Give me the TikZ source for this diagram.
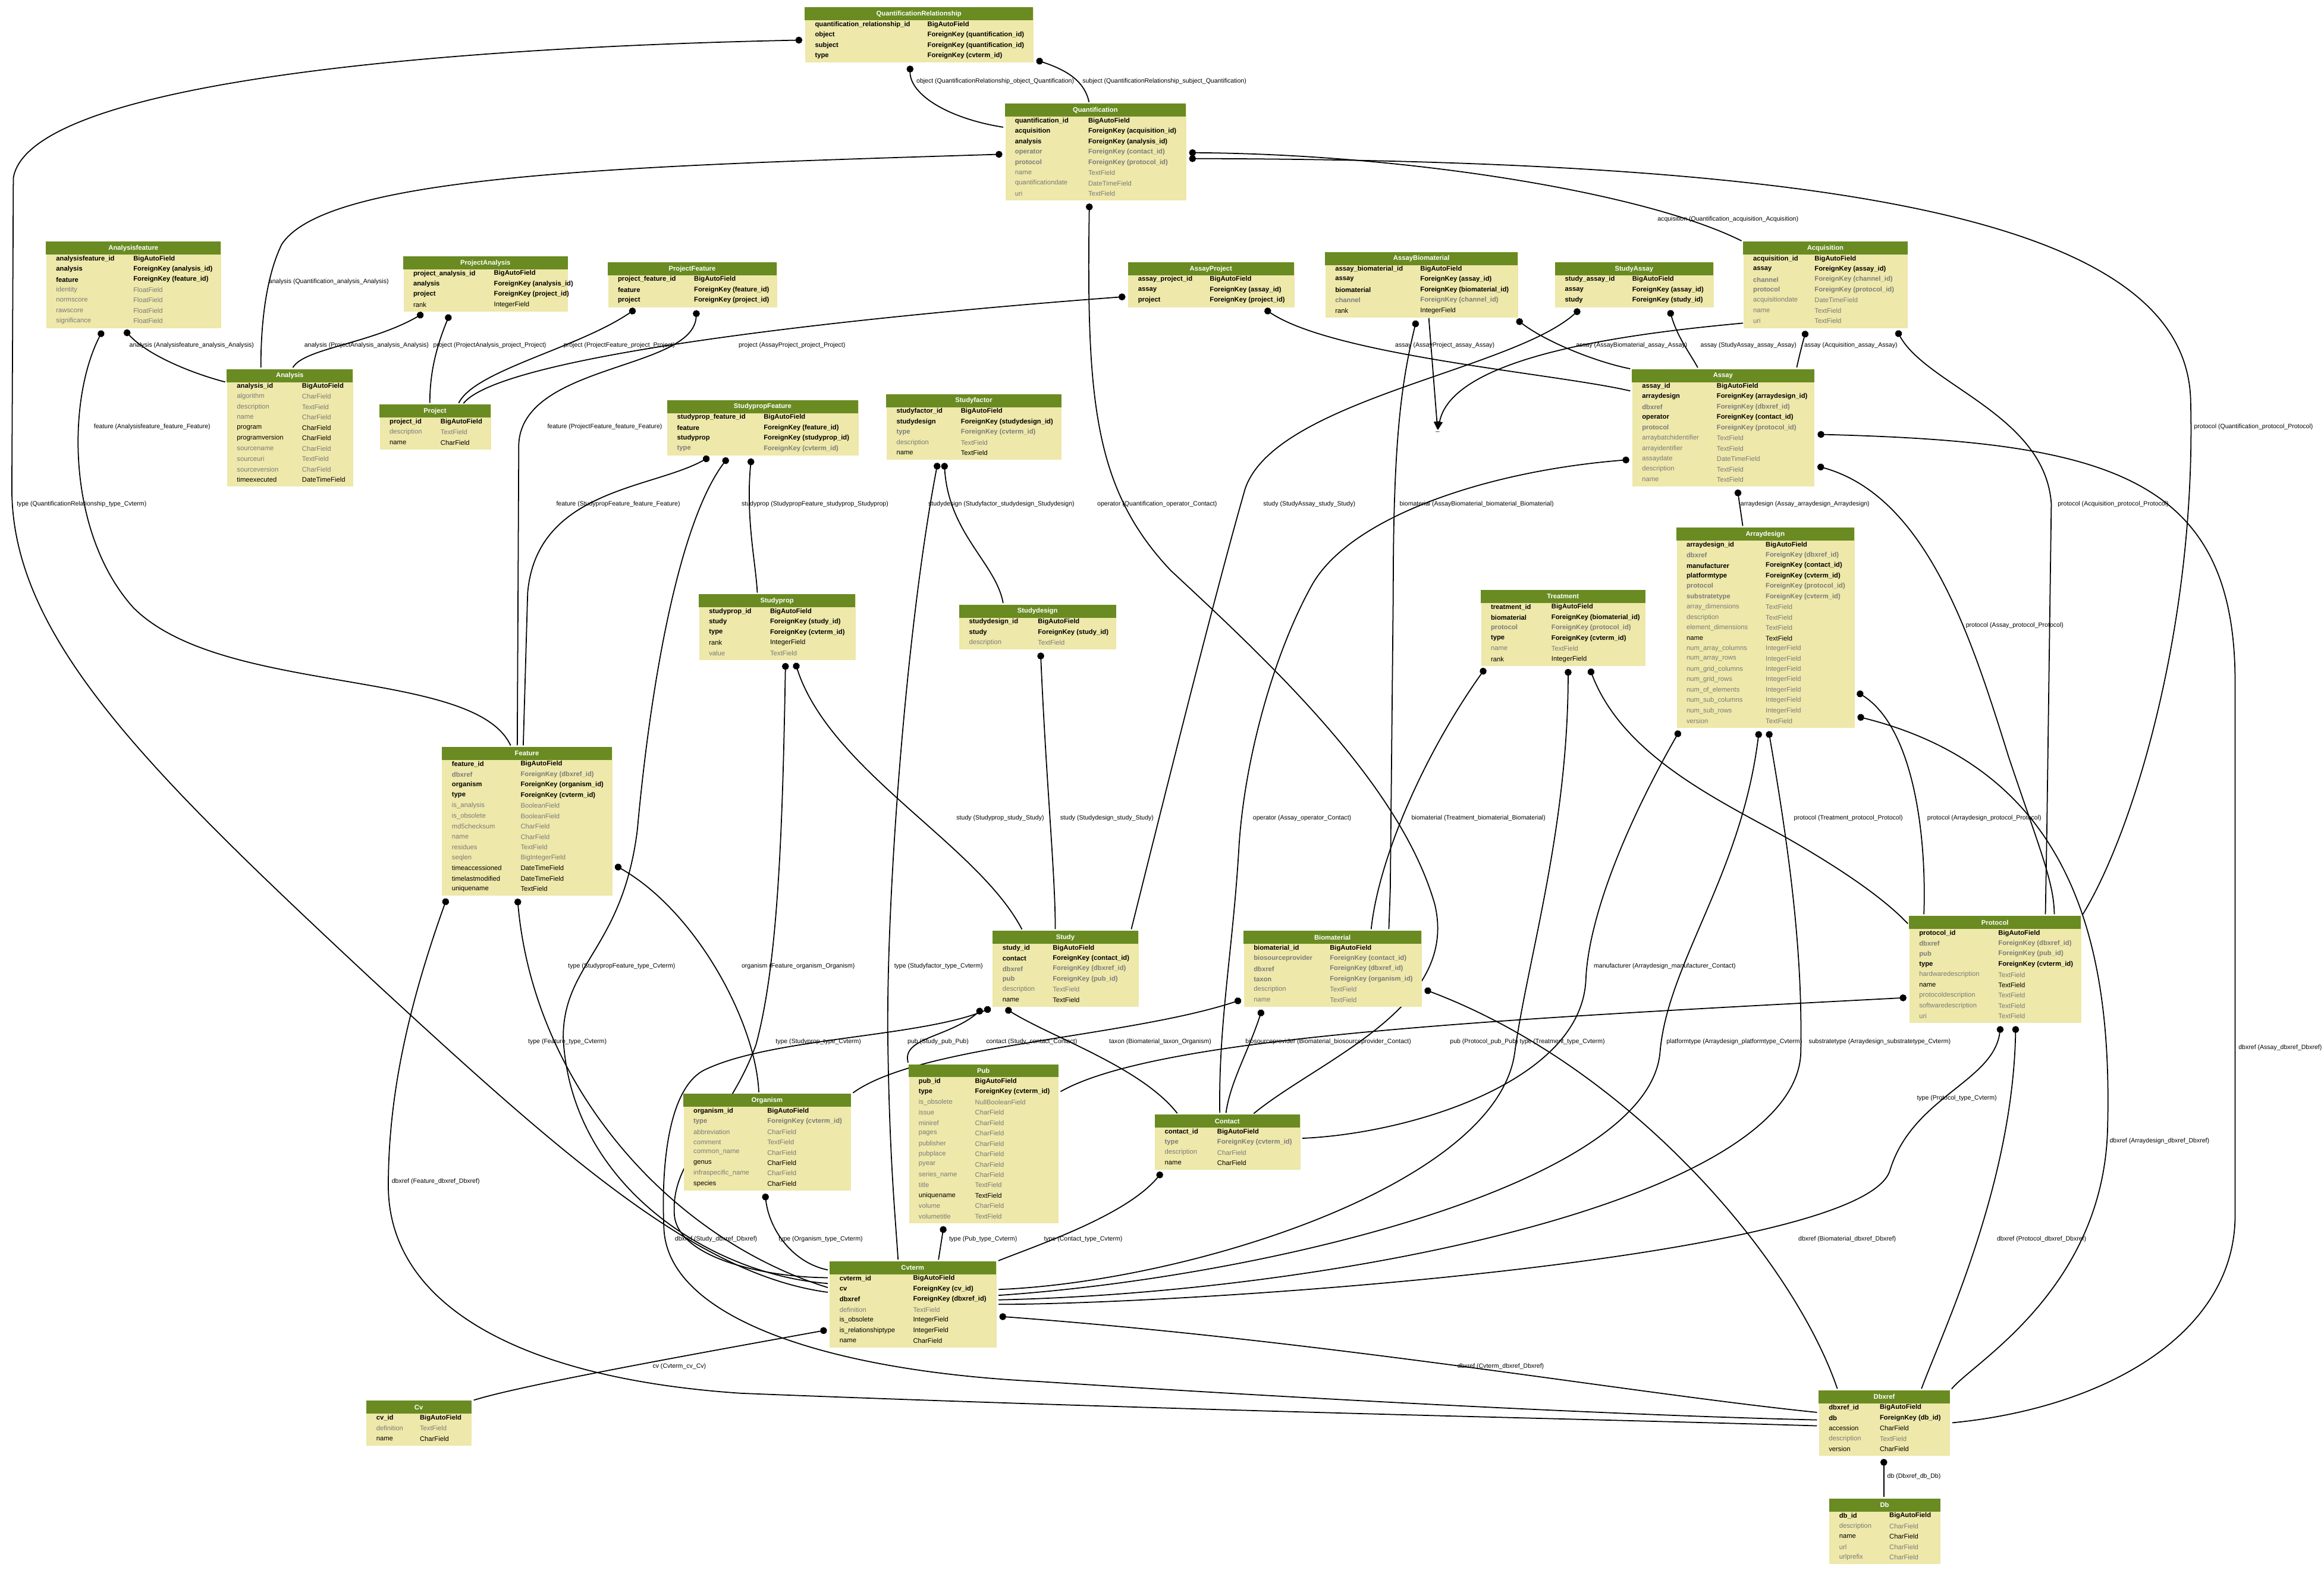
\documentclass[tikz,border=0pt]{standalone}
\usepackage{fontspec}
\setmainfont{Liberation Sans}
\usetikzlibrary{arrows.meta,backgrounds}

\definecolor{hdrgreen}{HTML}{698B22}
\definecolor{bodytan}{HTML}{EEE8AA}
\definecolor{fgrey}{HTML}{7B7B7B}

\newcommand\tblfont{\fontsize{3.2}{3.8}\selectfont}
\newcommand\lblfont{\fontsize{3.0}{3.6}\selectfont}
% row looks: key, key (blank), plain, plain (blank)
\newcommand\rk{\bfseries}
\newcommand\rkg{\bfseries\color{fgrey}}
\newcommand\rp{}
\newcommand\rpg{\color{fgrey}}

% #1 name, #2 left, #3 top, #4 right, #5 second column, #6 title, #7 rows
\newcommand{\djtable}[7]{%
  \foreach \fname/\ftype/\fsty [count=\i] in {#7} {\xdef\nrows{\i}}
  \node[tblbody, minimum width={(#4-#2)*0.2492mm}, minimum height={(9+7*\nrows)*0.2492mm}] (#1) at (#2,#3) {};
  \fill[hdrgreen] (#2,#3) rectangle (#4,#3+8.8);
  \node[hdrtxt] at ({(#2+#4)/2},#3+4.4) {#6};
  \foreach \fname/\ftype/\fsty [count=\i] in {#7} {
    \node[fldtxt] at (#2+6.6,#3+4.6+7*\i) {\fsty\fname};
    \node[fldtxt] at (#5,#3+4.6+7*\i) {\fsty\ftype};
  }
}

\begin{document}
\begin{tikzpicture}[
  x=0.2492mm, y=-0.2492mm,
  tblbody/.style={fill=bodytan, inner sep=0pt, anchor=north west},
  hdrtxt/.style={font=\tblfont\bfseries, text=white, inner sep=0pt},
  fldtxt/.style={font=\tblfont, anchor=west, inner sep=0pt},
  lbl/.style={font=\lblfont, anchor=west, inner sep=0pt},
  fk/.style={arrows={Circle[length=3.3pt]-}, line width=.5pt, shorten <=1.2pt, shorten >=.8pt},
  tip/.style={-{Triangle[length=4pt,width=3pt]}, line width=.5pt}
]
\useasboundingbox (0,0) rectangle (1568,1059);

\djtable{qrel}{543}{5}{697}{625.5}{QuantificationRelationship}{
  quantification\_relationship\_id/BigAutoField/\rk,
  object/ForeignKey (quantification\_id)/\rk,
  subject/ForeignKey (quantification\_id)/\rk,
  type/ForeignKey (cvterm\_id)/\rk}
\djtable{quant}{678}{70}{800}{734}{Quantification}{
  quantification\_id/BigAutoField/\rk,
  acquisition/ForeignKey (acquisition\_id)/\rk,
  analysis/ForeignKey (analysis\_id)/\rk,
  operator/ForeignKey (contact\_id)/\rkg,
  protocol/ForeignKey (protocol\_id)/\rkg,
  name/TextField/\rpg,
  quantificationdate/DateTimeField/\rpg,
  uri/TextField/\rpg}
\djtable{afeat}{31}{163}{149}{89.7}{Analysisfeature}{
  analysisfeature\_id/BigAutoField/\rk,
  analysis/ForeignKey (analysis\_id)/\rk,
  feature/ForeignKey (feature\_id)/\rk,
  identity/FloatField/\rpg,
  normscore/FloatField/\rpg,
  rawscore/FloatField/\rpg,
  significance/FloatField/\rpg}
\djtable{panal}{272}{173}{383}{333}{ProjectAnalysis}{
  project\_analysis\_id/BigAutoField/\rk,
  analysis/ForeignKey (analysis\_id)/\rk,
  project/ForeignKey (project\_id)/\rk,
  rank/IntegerField/\rp}
\djtable{pfeat}{410}{177}{524}{468}{ProjectFeature}{
  project\_feature\_id/BigAutoField/\rk,
  feature/ForeignKey (feature\_id)/\rk,
  project/ForeignKey (project\_id)/\rk}
\djtable{aproj}{761}{177}{873}{816}{AssayProject}{
  assay\_project\_id/BigAutoField/\rk,
  assay/ForeignKey (assay\_id)/\rk,
  project/ForeignKey (project\_id)/\rk}
\djtable{abio}{894}{170}{1024}{958}{AssayBiomaterial}{
  assay\_biomaterial\_id/BigAutoField/\rk,
  assay/ForeignKey (assay\_id)/\rk,
  biomaterial/ForeignKey (biomaterial\_id)/\rk,
  channel/ForeignKey (channel\_id)/\rkg,
  rank/IntegerField/\rp}
\djtable{sassay}{1049}{177}{1156}{1101}{StudyAssay}{
  study\_assay\_id/BigAutoField/\rk,
  assay/ForeignKey (assay\_id)/\rk,
  study/ForeignKey (study\_id)/\rk}
\djtable{acq}{1176}{163}{1287}{1224}{Acquisition}{
  acquisition\_id/BigAutoField/\rk,
  assay/ForeignKey (assay\_id)/\rk,
  channel/ForeignKey (channel\_id)/\rkg,
  protocol/ForeignKey (protocol\_id)/\rkg,
  acquisitiondate/DateTimeField/\rpg,
  name/TextField/\rpg,
  uri/TextField/\rpg}
\djtable{analysis}{153}{249}{238}{203.5}{Analysis}{
  analysis\_id/BigAutoField/\rk,
  algorithm/CharField/\rpg,
  description/TextField/\rpg,
  name/CharField/\rpg,
  program/CharField/\rp,
  programversion/CharField/\rp,
  sourcename/CharField/\rpg,
  sourceuri/TextField/\rpg,
  sourceversion/CharField/\rpg,
  timeexecuted/DateTimeField/\rp}
\djtable{project}{256}{273}{331}{297}{Project}{
  project\_id/BigAutoField/\rk,
  description/TextField/\rpg,
  name/CharField/\rp}
\djtable{spfeat}{450}{270}{579}{515}{StudypropFeature}{
  studyprop\_feature\_id/BigAutoField/\rk,
  feature/ForeignKey (feature\_id)/\rk,
  studyprop/ForeignKey (studyprop\_id)/\rk,
  type/ForeignKey (cvterm\_id)/\rkg}
\djtable{sfactor}{598}{266}{716}{648}{Studyfactor}{
  studyfactor\_id/BigAutoField/\rk,
  studydesign/ForeignKey (studydesign\_id)/\rk,
  type/ForeignKey (cvterm\_id)/\rkg,
  description/TextField/\rpg,
  name/TextField/\rp}
\djtable{assay}{1101}{249}{1224}{1158}{Assay}{
  assay\_id/BigAutoField/\rk,
  arraydesign/ForeignKey (arraydesign\_id)/\rk,
  dbxref/ForeignKey (dbxref\_id)/\rkg,
  operator/ForeignKey (contact\_id)/\rk,
  protocol/ForeignKey (protocol\_id)/\rkg,
  arraybatchidentifier/TextField/\rpg,
  arrayidentifier/TextField/\rpg,
  assaydate/DateTimeField/\rpg,
  description/TextField/\rpg,
  name/TextField/\rpg}
\djtable{arraydesign}{1131}{356}{1251}{1191}{Arraydesign}{
  arraydesign\_id/BigAutoField/\rk,
  dbxref/ForeignKey (dbxref\_id)/\rkg,
  manufacturer/ForeignKey (contact\_id)/\rk,
  platformtype/ForeignKey (cvterm\_id)/\rk,
  protocol/ForeignKey (protocol\_id)/\rkg,
  substratetype/ForeignKey (cvterm\_id)/\rkg,
  array\_dimensions/TextField/\rpg,
  description/TextField/\rpg,
  element\_dimensions/TextField/\rpg,
  name/TextField/\rp,
  num\_array\_columns/IntegerField/\rpg,
  num\_array\_rows/IntegerField/\rpg,
  num\_grid\_columns/IntegerField/\rpg,
  num\_grid\_rows/IntegerField/\rpg,
  num\_of\_elements/IntegerField/\rpg,
  num\_sub\_columns/IntegerField/\rpg,
  num\_sub\_rows/IntegerField/\rpg,
  version/TextField/\rpg}
\djtable{sprop}{471.5}{401}{577}{519.3}{Studyprop}{
  studyprop\_id/BigAutoField/\rk,
  study/ForeignKey (study\_id)/\rk,
  type/ForeignKey (cvterm\_id)/\rk,
  rank/IntegerField/\rp,
  value/TextField/\rpg}
\djtable{sdesign}{647}{408}{753}{700}{Studydesign}{
  studydesign\_id/BigAutoField/\rk,
  study/ForeignKey (study\_id)/\rk,
  description/TextField/\rpg}
\djtable{treat}{999}{398}{1110}{1046.5}{Treatment}{
  treatment\_id/BigAutoField/\rk,
  biomaterial/ForeignKey (biomaterial\_id)/\rk,
  protocol/ForeignKey (protocol\_id)/\rkg,
  type/ForeignKey (cvterm\_id)/\rk,
  name/TextField/\rpg,
  rank/IntegerField/\rp}
\djtable{feature}{298}{504}{413}{351}{Feature}{
  feature\_id/BigAutoField/\rk,
  dbxref/ForeignKey (dbxref\_id)/\rkg,
  organism/ForeignKey (organism\_id)/\rk,
  type/ForeignKey (cvterm\_id)/\rk,
  is\_analysis/BooleanField/\rpg,
  is\_obsolete/BooleanField/\rpg,
  md5checksum/CharField/\rpg,
  name/CharField/\rpg,
  residues/TextField/\rpg,
  seqlen/BigIntegerField/\rpg,
  timeaccessioned/DateTimeField/\rp,
  timelastmodified/DateTimeField/\rp,
  uniquename/TextField/\rp}
\djtable{study}{669.5}{628}{768}{710}{Study}{
  study\_id/BigAutoField/\rk,
  contact/ForeignKey (contact\_id)/\rk,
  dbxref/ForeignKey (dbxref\_id)/\rkg,
  pub/ForeignKey (pub\_id)/\rkg,
  description/TextField/\rpg,
  name/TextField/\rp}
\djtable{biomat}{839}{628}{959}{897}{Biomaterial}{
  biomaterial\_id/BigAutoField/\rk,
  biosourceprovider/ForeignKey (contact\_id)/\rkg,
  dbxref/ForeignKey (dbxref\_id)/\rkg,
  taxon/ForeignKey (organism\_id)/\rkg,
  description/TextField/\rpg,
  name/TextField/\rpg}
\djtable{protocol}{1288}{618}{1404}{1348}{Protocol}{
  protocol\_id/BigAutoField/\rk,
  dbxref/ForeignKey (dbxref\_id)/\rkg,
  pub/ForeignKey (pub\_id)/\rkg,
  type/ForeignKey (cvterm\_id)/\rk,
  hardwaredescription/TextField/\rpg,
  name/TextField/\rp,
  protocoldescription/TextField/\rpg,
  softwaredescription/TextField/\rpg,
  uri/TextField/\rpg}
\djtable{organism}{461}{738}{574}{517.4}{Organism}{
  organism\_id/BigAutoField/\rk,
  type/ForeignKey (cvterm\_id)/\rkg,
  abbreviation/CharField/\rpg,
  comment/TextField/\rpg,
  common\_name/CharField/\rpg,
  genus/CharField/\rp,
  infraspecific\_name/CharField/\rpg,
  species/CharField/\rp}
\djtable{pub}{613}{718}{714}{657.6}{Pub}{
  pub\_id/BigAutoField/\rk,
  type/ForeignKey (cvterm\_id)/\rk,
  is\_obsolete/NullBooleanField/\rpg,
  issue/CharField/\rpg,
  miniref/CharField/\rpg,
  pages/CharField/\rpg,
  publisher/CharField/\rpg,
  pubplace/CharField/\rpg,
  pyear/CharField/\rpg,
  series\_name/CharField/\rpg,
  title/TextField/\rpg,
  uniquename/TextField/\rp,
  volume/CharField/\rpg,
  volumetitle/TextField/\rpg}
\djtable{contact}{779}{752}{877}{821}{Contact}{
  contact\_id/BigAutoField/\rk,
  type/ForeignKey (cvterm\_id)/\rkg,
  description/CharField/\rpg,
  name/CharField/\rp}
\djtable{cvterm}{559.6}{851}{672}{615.8}{Cvterm}{
  cvterm\_id/BigAutoField/\rk,
  cv/ForeignKey (cv\_id)/\rk,
  dbxref/ForeignKey (dbxref\_id)/\rk,
  definition/TextField/\rpg,
  is\_obsolete/IntegerField/\rp,
  is\_relationshiptype/IntegerField/\rp,
  name/CharField/\rp}
\djtable{cv}{247}{945}{318}{283}{Cv}{
  cv\_id/BigAutoField/\rk,
  definition/TextField/\rpg,
  name/CharField/\rp}
\djtable{dbxref}{1227}{938}{1315.5}{1268}{Dbxref}{
  dbxref\_id/BigAutoField/\rk,
  db/ForeignKey (db\_id)/\rk,
  accession/CharField/\rp,
  description/TextField/\rpg,
  version/CharField/\rp}
\djtable{db}{1234}{1011}{1309}{1274.5}{Db}{
  db\_id/BigAutoField/\rk,
  description/CharField/\rpg,
  name/CharField/\rp,
  url/CharField/\rpg,
  urlprefix/CharField/\rpg}
\node[font=\tblfont, inner sep=0pt] (chan) at (970,291) {\_};

\begin{pgfonlayer}{background}
% quantification
\draw[fk] (qrel.south -| 614,0) .. controls (614,64) and (640,80) .. (quant.west |- 0,86)
  node[lbl] at (618,55) {object (QuantificationRelationship\_object\_Quantification)};
\draw[fk] (qrel.east |- 0,40) .. controls (722,48) and (732,56) .. (quant.north -| 735,0)
  node[lbl] at (730,55) {subject (QuantificationRelationship\_subject\_Quantification)};
\draw[fk] (qrel.west |- 0,27) .. controls (300,32) and (20,55) .. (9,120) -- (8,330) .. controls (8,430) and (100,520) .. (250,660) .. controls (380,780) and (470,860) .. (cvterm.west |- 0,872)
  node[lbl] at (11,340) {type (QuantificationRelationship\_type\_Cvterm)};
\draw[fk] (quant.west |- 0,104) .. controls (420,112) and (220,118) .. (190,165) .. controls (178,190) and (176,225) .. (analysis.north -| 176,0)
  node[lbl] at (181,190) {analysis (Quantification\_analysis\_Analysis)};
\draw[fk] (quant.east |- 0,103) .. controls (950,104) and (1110,130) .. (acq.north west)
  node[lbl] at (1118,148) {acquisition (Quantification\_acquisition\_Acquisition)};
\draw[fk] (quant.east |- 0,107) .. controls (1250,108) and (1475,150) .. (1478,270) .. controls (1482,420) and (1440,560) .. (protocol.north east)
  node[lbl] at (1480,288) {protocol (Quantification\_protocol\_Protocol)};
\draw[fk] (quant.south -| 735,0) .. controls (733,270) and (738,330) .. (790,385) .. controls (860,450) and (945,530) .. (968,610) .. controls (985,680) and (890,715) .. (contact.north -| 845,0)
  node[lbl] at (740,340) {operator (Quantification\_operator\_Contact)};
% analyses and projects
\draw[fk] (afeat.south -| 83,0) .. controls (100,240) and (130,252) .. (analysis.west |- 0,258)
  node[lbl] at (87,233) {analysis (Analysisfeature\_analysis\_Analysis)};
\draw[fk] (afeat.south -| 70,0) .. controls (45,270) and (45,360) .. (90,410) .. controls (150,470) and (320,450) .. (feature.north -| 345,0)
  node[lbl] at (63,288) {feature (Analysisfeature\_feature\_Feature)};
\draw[fk] (panal.south -| 287,0) .. controls (250,232) and (205,235) .. (analysis.north -| 197,0)
  node[lbl] at (205,233) {analysis (ProjectAnalysis\_analysis\_Analysis)};
\draw[fk] (panal.south -| 304,0) .. controls (294,235) and (290,252) .. (project.north -| 290,0)
  node[lbl] at (292,233) {project (ProjectAnalysis\_project\_Project)};
\draw[fk] (pfeat.south -| 430,0) .. controls (390,235) and (320,250) .. (project.north -| 309,0)
  node[lbl] at (380,233) {project (ProjectFeature\_project\_Project)};
\draw[fk] (aproj.west |- 0,200) .. controls (600,212) and (340,238) .. (project.north -| 312,0)
  node[lbl] at (498,233) {project (AssayProject\_project\_Project)};
\draw[fk] (pfeat.south -| 470,0) .. controls (468,250) and (352,245) .. (350,300) -- (feature.north -| 349,0)
  node[lbl] at (369,288) {feature (ProjectFeature\_feature\_Feature)};
% studies
\draw[fk] (spfeat.south -| 480,0) .. controls (440,330) and (362,330) .. (356,400) -- (feature.north -| 353,0)
  node[lbl] at (375,340) {feature (StudypropFeature\_feature\_Feature)};
\draw[fk] (spfeat.south -| 492,0) .. controls (460,350) and (440,450) .. (430,560) .. controls (420,640) and (380,650) .. (380,700) .. controls (385,800) and (480,860) .. (cvterm.west |- 0,866)
  node[lbl] at (383,652) {type (StudypropFeature\_type\_Cvterm)};
\draw[fk] (spfeat.south -| 507,0) .. controls (503,350) and (510,380) .. (sprop.north -| 511,0)
  node[lbl] at (500,340) {studyprop (StudypropFeature\_studyprop\_Studyprop)};
\draw[fk] (sfactor.south -| 637,0) .. controls (640,360) and (672,380) .. (sdesign.north -| 677,0)
  node[lbl] at (626,340) {studydesign (Studyfactor\_studydesign\_Studydesign)};
\draw[fk] (sfactor.south -| 633,0) .. controls (612,420) and (598,600) .. (599,700) .. controls (600,780) and (604,820) .. (cvterm.north -| 606,0)
  node[lbl] at (603,652) {type (Studyfactor\_type\_Cvterm)};
\draw[fk] (sprop.south -| 536,0) .. controls (560,520) and (660,570) .. (study.north -| 690,0)
  node[lbl] at (645,552) {study (Studyprop\_study\_Study)};
\draw[fk] (sprop.south -| 530,0) .. controls (528,560) and (525,650) .. (510,705) .. controls (490,760) and (452,780) .. (455,820) .. controls (458,850) and (520,862) .. (cvterm.west |- 0,862)
  node[lbl] at (523,703) {type (Studyprop\_type\_Cvterm)};
\draw[fk] (sdesign.south -| 702,0) .. controls (706,530) and (712,590) .. (study.north -| 712,0)
  node[lbl] at (715,552) {study (Studydesign\_study\_Study)};
% assays
\draw[fk] (aproj.south -| 852,0) .. controls (900,240) and (1050,252) .. (assay.west |- 0,264)
  node[lbl] at (941,233) {assay (AssayProject\_assay\_Assay)};
\draw[fk] (abio.south -| 1022,0) .. controls (1045,232) and (1080,245) .. (assay.north west)
  node[lbl] at (1063,233) {assay (AssayBiomaterial\_assay\_Assay)};
\draw[fk] (sassay.south -| 1126,0) .. controls (1132,228) and (1140,238) .. (assay.north -| 1146,0)
  node[lbl] at (1147,233) {assay (StudyAssay\_assay\_Assay)};
\draw[fk] (acq.south -| 1219,0) .. controls (1216,232) and (1214,240) .. (assay.north -| 1212,0)
  node[lbl] at (1217,233) {assay (Acquisition\_assay\_Assay)};
\draw[fk] (acq.south -| 1279,0) .. controls (1300,260) and (1380,280) .. (1384,340) -- (1381,560) -- (protocol.north -| 1380,0)
  node[lbl] at (1388,340) {protocol (Acquisition\_protocol\_Protocol)};
\draw[fk] (sassay.south -| 1067,0) .. controls (1020,250) and (860,270) .. (840,330) .. controls (820,400) and (790,520) .. (study.north -| 763,0)
  node[lbl] at (852,340) {study (StudyAssay\_study\_Study)};
\draw[fk] (abio.south -| 956,0) .. controls (945,260) and (940,300) .. (940,400) -- (938,600) -- (biomat.north -| 937,0)
  node[lbl] at (944,340) {biomaterial (AssayBiomaterial\_biomaterial\_Biomaterial)};
\draw[tip] (abio.south -| 964,0) -- (chan);
\draw[tip] (acq.west |- 0,218) .. controls (1100,225) and (980,240) .. (chan);
\draw[fk] (assay.south -| 1172,0) -- (arraydesign.north -| 1176,0)
  node[lbl] at (1174,340) {arraydesign (Assay\_arraydesign\_Arraydesign)};
\draw[fk] (assay.west |- 0,310) .. controls (1000,318) and (910,350) .. (885,395) .. controls (860,440) and (840,510) .. (836,570) .. controls (832,640) and (822,690) .. (contact.north -| 823,0)
  node[lbl] at (845,552) {operator (Assay\_operator\_Contact)};
\draw[fk] (assay.east |- 0,293) .. controls (1420,298) and (1508,320) .. (1508,460) -- (1508,820) .. controls (1508,900) and (1420,950) .. (dbxref.east |- 0,960)
  node[lbl] at (1510,707) {dbxref (Assay\_dbxref\_Dbxref)};
\draw[fk] (assay.east |- 0,314) .. controls (1300,335) and (1330,430) .. (1355,510) .. controls (1375,570) and (1386,595) .. (protocol.north -| 1386,0)
  node[lbl] at (1326,422) {protocol (Assay\_protocol\_Protocol)};
% arraydesign and treatment
\draw[fk] (arraydesign.east |- 0,466) .. controls (1290,490) and (1300,560) .. (protocol.north -| 1298,0)
  node[lbl] at (1300,552) {protocol (Arraydesign\_protocol\_Protocol)};
\draw[fk] (arraydesign.east |- 0,483) .. controls (1400,520) and (1425,640) .. (1422,760) .. controls (1420,870) and (1330,920) .. (dbxref.north east)
  node[lbl] at (1423,770) {dbxref (Arraydesign\_dbxref\_Dbxref)};
\draw[fk] (arraydesign.south -| 1134,0) .. controls (1095,560) and (1072,620) .. (1070,660) .. controls (1068,730) and (950,765) .. (contact.east |- 0,768)
  node[lbl] at (1075,652) {manufacturer (Arraydesign\_manufacturer\_Contact)};
\draw[fk] (arraydesign.south -| 1187,0) .. controls (1175,590) and (1125,650) .. (1120,710) .. controls (1112,800) and (850,862) .. (cvterm.east |- 0,874)
  node[lbl] at (1124,703) {platformtype (Arraydesign\_platformtype\_Cvterm)};
\draw[fk] (arraydesign.south -| 1193,0) .. controls (1210,590) and (1216,650) .. (1215,710) .. controls (1212,810) and (900,872) .. (cvterm.east |- 0,877)
  node[lbl] at (1220,703) {substratetype (Arraydesign\_substratetype\_Cvterm)};
\draw[fk] (treat.south -| 1003,0) .. controls (960,510) and (930,580) .. (biomat.north -| 925,0)
  node[lbl] at (952,552) {biomaterial (Treatment\_biomaterial\_Biomaterial)};
\draw[fk] (treat.south -| 1058,0) .. controls (1058,560) and (1030,650) .. (1022,710) .. controls (1010,800) and (800,865) .. (cvterm.east |- 0,870)
  node[lbl] at (1025,703) {type (Treatment\_type\_Cvterm)};
\draw[fk] (treat.south -| 1072,0) .. controls (1095,510) and (1160,540) .. (1205,565) .. controls (1240,585) and (1270,605) .. (protocol.west |- 0,624)
  node[lbl] at (1210,552) {protocol (Treatment\_protocol\_Protocol)};
% feature, study, biomaterial, protocol
\draw[fk] (feature.south -| 302,0) .. controls (275,680) and (262,740) .. (262,800) .. controls (262,880) and (350,930) .. (500,940) .. controls (800,952) and (1100,958) .. (dbxref.west |- 0,962)
  node[lbl] at (264,797) {dbxref (Feature\_dbxref\_Dbxref)};
\draw[fk] (feature.east |- 0,583) .. controls (470,615) and (510,690) .. (organism.north -| 512,0)
  node[lbl] at (500,652) {organism (Feature\_organism\_Organism)};
\draw[fk] (feature.south -| 349,0) .. controls (360,730) and (450,835) .. (cvterm.west |- 0,869)
  node[lbl] at (356,703) {type (Feature\_type\_Cvterm)};
\draw[fk] (study.south -| 664,0) .. controls (640,700) and (608,700) .. (pub.north west)
  node[lbl] at (612,703) {pub (Study\_pub\_Pub)};
\draw[fk] (study.south -| 677,0) .. controls (710,700) and (770,720) .. (contact.north -| 795,0)
  node[lbl] at (665,703) {contact (Study\_contact\_Contact)};
\draw[fk] (study.south -| 670,0) .. controls (620,700) and (520,700) .. (475,722) .. controls (450,735) and (446,790) .. (448,830) .. controls (452,890) and (560,925) .. (700,932) .. controls (900,945) and (1100,955) .. (dbxref.west |- 0,958)
  node[lbl] at (455,836) {dbxref (Study\_dbxref\_Dbxref)};
\draw[fk] (biomat.west |- 0,674) .. controls (760,700) and (620,705) .. (organism.north east)
  node[lbl] at (748,703) {taxon (Biomaterial\_taxon\_Organism)};
\draw[fk] (biomat.south -| 852,0) .. controls (842,710) and (830,730) .. (contact.north -| 827,0)
  node[lbl] at (840,703) {biosourceprovider (Biomaterial\_biosourceprovider\_Contact)};
\draw[fk] (biomat.east |- 0,667) .. controls (1100,720) and (1210,850) .. (dbxref.north -| 1240,0)
  node[lbl] at (1213,836) {dbxref (Biomaterial\_dbxref\_Dbxref)};
\draw[fk] (protocol.west |- 0,673) .. controls (1000,688) and (780,700) .. (pub.east |- 0,737)
  node[lbl] at (978,703) {pub (Protocol\_pub\_Pub)};
\draw[fk] (protocol.south -| 1350,0) .. controls (1345,730) and (1290,740) .. (1275,790) .. controls (1255,850) and (800,880) .. (cvterm.east |- 0,880)
  node[lbl] at (1293,741) {type (Protocol\_type\_Cvterm)};
\draw[fk] (protocol.south -| 1360,0) .. controls (1358,800) and (1310,900) .. (dbxref.north -| 1296,0)
  node[lbl] at (1347,836) {dbxref (Protocol\_dbxref\_Dbxref)};
% vocabulary
\draw[fk] (organism.south -| 516,0) .. controls (519,830) and (535,852) .. (cvterm.west |- 0,857)
  node[lbl] at (525,836) {type (Organism\_type\_Cvterm)};
\draw[fk] (pub.south -| 637,0) -- (cvterm.north -| 633,0)
  node[lbl] at (640,836) {type (Pub\_type\_Cvterm)};
\draw[fk] (contact.south -| 785,0) .. controls (760,820) and (700,840) .. (cvterm.north east)
  node[lbl] at (704,836) {type (Contact\_type\_Cvterm)};
\draw[fk] (cvterm.west |- 0,897) .. controls (460,915) and (350,935) .. (cv.north east)
  node[lbl] at (440,922) {cv (Cvterm\_cv\_Cv)};
\draw[fk] (cvterm.east |- 0,888) .. controls (900,905) and (1100,940) .. (dbxref.west |- 0,953)
  node[lbl] at (983,922) {dbxref (Cvterm\_dbxref\_Dbxref)};
\draw[fk] (dbxref.south -| 1271,0) -- (db.north -| 1271,0)
  node[lbl] at (1273,996) {db (Dbxref\_db\_Db)};
\end{pgfonlayer}
\end{tikzpicture}
\end{document}
